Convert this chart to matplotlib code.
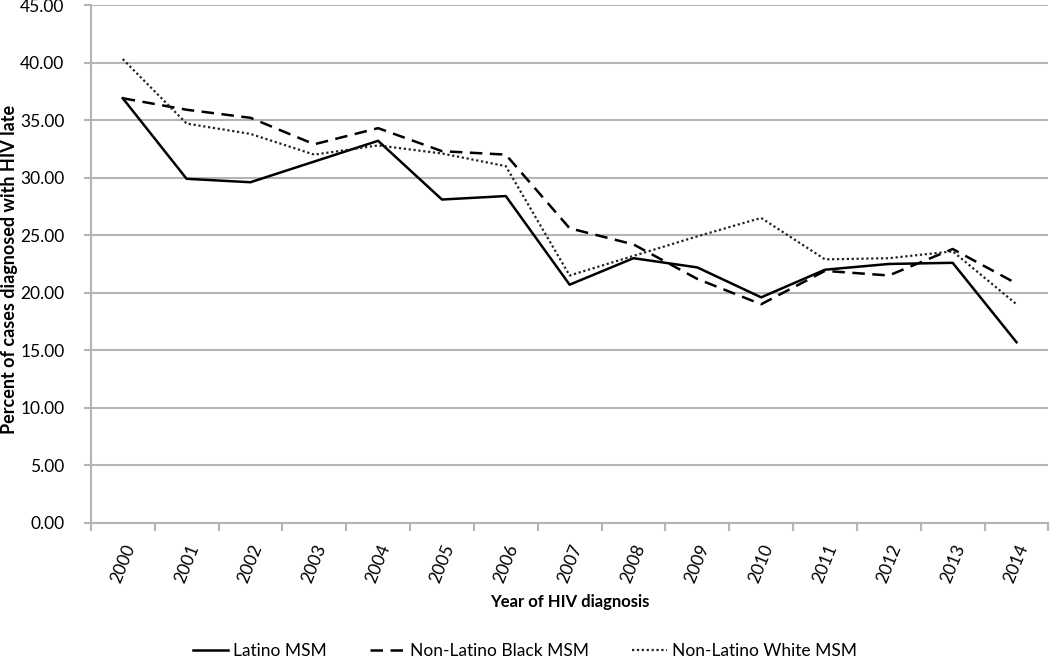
import numpy as np
import matplotlib
matplotlib.use("Agg")
import matplotlib.pyplot as plt

plt.rcParams['font.family'] = ['Lato', 'DejaVu Sans']

years = [str(y) for y in range(2000, 2015)]
latino = [36.9, 29.9, 29.6, 31.4, 33.2, 28.1, 28.4, 20.7, 23.0, 22.2, 19.6, 22.0, 22.5, 22.6, 15.7]
black = [36.9, 35.9, 35.2, 32.9, 34.3, 32.3, 32.0, 25.6, 24.2, 21.2, 19.0, 21.9, 21.5, 23.8, 20.8]
white = [40.3, 34.7, 33.8, 32.0, 32.8, 32.1, 31.0, 21.5, 23.2, 24.9, 26.5, 22.9, 23.0, 23.6, 19.0]
y_ticks = np.arange(0, 46, 5)

grid_col = "#b4b4b4"

fig = plt.figure(figsize=(10.5, 6.67), dpi=100)
ax = fig.add_axes([0.0865, 0.216, 0.912, 0.7765])

x = np.arange(len(years))
ax.plot(x, latino, color="black", lw=1.8, label="Latino MSM")
ax.plot(x, black, color="black", lw=1.8, dashes=(5, 3), label="Non-Latino Black MSM")
ax.plot(x, white, color="#222222", lw=1.6, dashes=(1, 1.2), label="Non-Latino White MSM")

ax.set_xlim(-0.5, len(years) - 0.5)
ax.set_ylim(0, 45)
ax.set_yticks(y_ticks)
ax.set_yticklabels(["%.2f" % v for v in y_ticks], fontsize=12.5)
ax.yaxis.grid(True, color=grid_col, lw=1.5)
ax.set_axisbelow(True)

ax.set_xticks(np.arange(-0.5, len(years), 1))
ax.set_xticklabels([])
ax.set_xticks(x, minor=True)
ax.set_xticklabels(years, minor=True, rotation=68, fontsize=12.5, ha="center", va="top")
ax.tick_params(axis="x", which="minor", length=0, pad=14)
ax.tick_params(axis="x", which="major", length=6, color=grid_col, width=1.5, direction="out")
ax.tick_params(axis="y", length=5, color=grid_col, width=1.5, pad=14)

for s in ["top", "right"]:
    ax.spines[s].set_visible(False)
for s in ["left", "bottom"]:
    ax.spines[s].set_color(grid_col)
    ax.spines[s].set_linewidth(1.5)

ax.set_ylabel("Percent of cases diagnosed with HIV late", fontsize=13, fontweight="bold")
ax.yaxis.set_label_coords(-0.076, 0.49)
ax.set_xlabel("Year of HIV diagnosis", fontsize=12, fontweight="bold", labelpad=6)

fig.legend(loc="lower center", bbox_to_anchor=(0.5, -0.012), ncol=3, frameon=False,
           fontsize=12.5, handlelength=2.0, handletextpad=0.3, columnspacing=2.5)

fig.savefig("out.png", dpi=100)
